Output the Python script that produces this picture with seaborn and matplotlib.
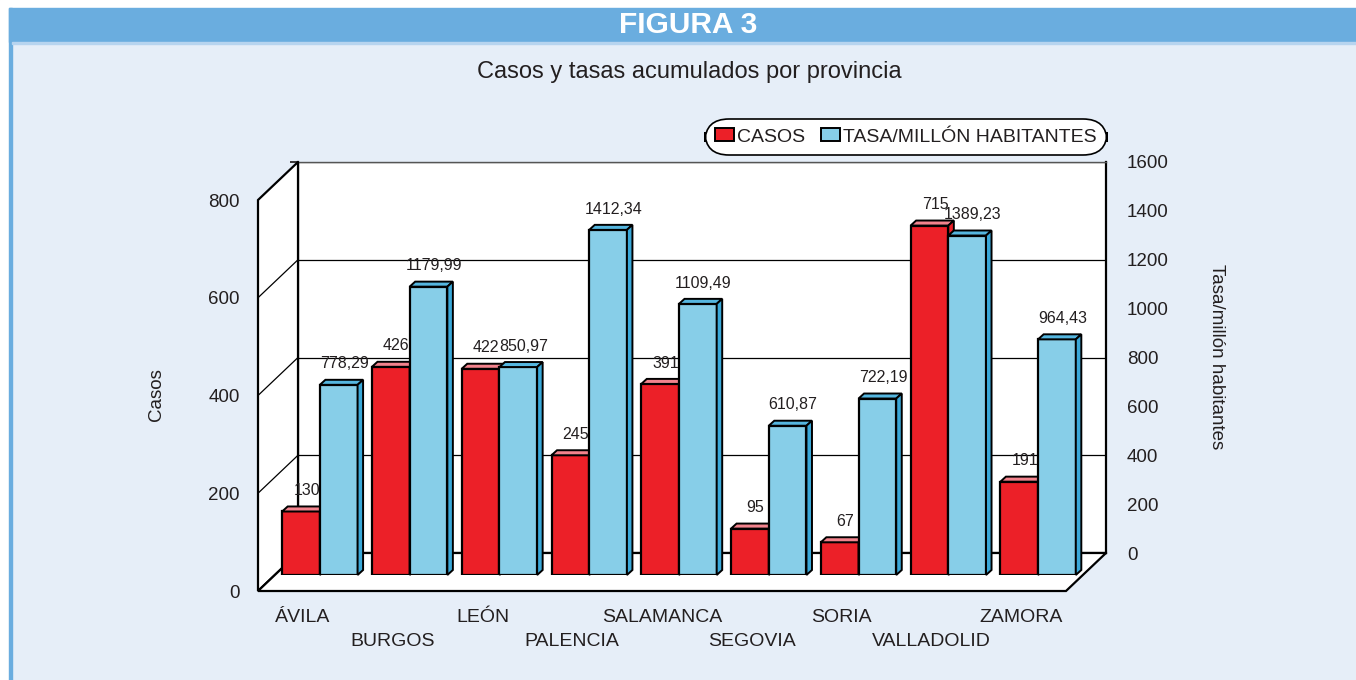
import matplotlib
matplotlib.use("Agg")
import matplotlib.pyplot as plt
from matplotlib.patches import Polygon, Rectangle, Patch
from matplotlib.lines import Line2D
import seaborn as sns
import numpy as np
import pandas as pd

# datos
provincias = ["ÁVILA", "BURGOS", "LEÓN", "PALENCIA", "SALAMANCA",
              "SEGOVIA", "SORIA", "VALLADOLID", "ZAMORA"]
casos = [130, 426, 422, 245, 391, 95, 67, 715, 191]
tasa = [778.29, 1179.99, 850.97, 1412.34, 1109.49, 610.87, 722.19, 1389.23, 964.43]
ticks_casos = [0, 200, 400, 600, 800]
ticks_tasa = [0, 200, 400, 600, 800, 1000, 1200, 1400, 1600]

df = pd.DataFrame({"provincia": provincias, "casos": casos, "tasa": tasa})

ROJO = "#EC2028"
ROJO_TOP = "#F2838D"
AZUL = "#87CEE8"
AZUL_TOP = "#55B6DF"
AZUL_LADO = "#3AA8D8"
FONDO = "#E6EEF8"
CABECERA = "#6AADDF"
TXT = "#231F20"

sns.set_theme(style="white")
plt.rcParams["font.family"] = ["Liberation Sans", "DejaVu Sans"]
plt.rcParams["text.color"] = TXT
plt.rcParams["xtick.color"] = TXT
plt.rcParams["ytick.color"] = TXT

W, H = 1356, 680
fig = plt.figure(figsize=(W / 100, H / 100), dpi=100, facecolor=FONDO)


def fx(px):
    return px / W


def fy(py):
    return 1 - py / H


# plano de las barras (px) y desplazamientos de profundidad
PL, PR, PB, PT = 275, 1083, 575, 184
FRONT = (-17, 16)
BACK = (23, -22)
DEPTH = (5.5, -5)  # profundidad de cada barra en px


def rect(off):
    dx, dy = off
    return [fx(PL + dx), fy(PB + dy), (PR - PL) / W, (PB - PT) / H]


# cabecera
fig.add_artist(Rectangle((0, fy(8)), 1, 8 / H, transform=fig.transFigure,
                         color="white", zorder=0))
fig.add_artist(Rectangle((0, 0), fx(9), 1, transform=fig.transFigure,
                         color="white", zorder=0))
fig.add_artist(Rectangle((fx(9), 0), fx(3), fy(8), transform=fig.transFigure,
                         color=CABECERA, zorder=0))
fig.add_artist(Rectangle((fx(9), fy(42)), 1, 34 / H, transform=fig.transFigure,
                         color=CABECERA, zorder=0))
fig.add_artist(Rectangle((fx(12), fy(44)), 1, 2 / H, transform=fig.transFigure,
                         color="#B7D4EF", zorder=0))
fig.text(fx(688), fy(25), "FIGURA 3", color="white", fontsize=21.5,
         fontweight="bold", ha="center", va="center")
fig.text(fx(689), fy(72), "Casos y tasas acumulados por provincia",
         fontsize=17, ha="center", va="center")

# pared del fondo
ax_back = fig.add_axes(rect(BACK), facecolor="white", zorder=0)
ax_back.set_xlim(-0.5, 8.5)
ax_back.set_ylim(0, 800)
ax_back.set_yticks(ticks_casos)
ax_back.set_xticks([])
ax_back.grid(axis="y", color="black", linewidth=0.9)
ax_back.tick_params(left=False, labelleft=False)
for s in ax_back.spines.values():
    s.set_color("black")
    s.set_linewidth(1.6)
ax_back.spines["top"].set_linewidth(1.0)
ax_back.spines["top"].set_color("#555555")

ax_back_r = ax_back.twinx()
ax_back_r.set_ylim(0, 1600)
ax_back_r.set_yticks(ticks_tasa)
ax_back_r.tick_params(axis="y", length=0, pad=15, labelsize=13.5)
for s in ax_back_r.spines.values():
    s.set_visible(False)

# pared izquierda y suelo
fl, fb, ft, frr = PL + FRONT[0], PB + FRONT[1], PT + FRONT[1], PR + FRONT[0]
bl, bb, bt, br = PL + BACK[0], PB + BACK[1], PT + BACK[1], PR + BACK[0]


def P(pts):
    return [(fx(x), fy(y)) for x, y in pts]


fig.add_artist(Polygon(P([(fl, fb), (fl, ft), (bl, bt), (bl, bb)]),
                       closed=True, transform=fig.transFigure, facecolor="white",
                       edgecolor="black", linewidth=1.6, zorder=1))
fig.add_artist(Polygon(P([(fl, fb), (bl, bb), (br, bb), (frr, fb)]),
                       closed=True, transform=fig.transFigure, facecolor="white",
                       edgecolor="black", linewidth=1.6, zorder=1))
for v in ticks_casos[1:-1]:
    yf = fb - (fb - ft) * v / 800
    yb = bb - (bb - bt) * v / 800
    fig.add_artist(Line2D([fx(fl), fx(bl)], [fy(yf), fy(yb)], color="black",
                          linewidth=0.9, transform=fig.transFigure, zorder=1))

# plano frontal: etiquetas de ejes
ax_front = fig.add_axes(rect(FRONT), facecolor="none", zorder=2)
ax_front.set_xlim(-0.5, 8.5)
ax_front.set_ylim(0, 800)
ax_front.set_yticks(ticks_casos)
ax_front.set_xticks(range(len(provincias)))
ax_front.set_xticklabels(provincias)
ax_front.tick_params(axis="y", length=0, pad=13, labelsize=13.5)
ax_front.tick_params(axis="x", length=0, labelsize=14)
for i, t in enumerate(ax_front.xaxis.get_major_ticks()):
    t.set_pad(13 if i % 2 == 0 else 30)
for s in ax_front.spines.values():
    s.set_visible(False)

fig.text(fx(157), fy(395), "Casos", rotation=90, fontsize=13.5,
         ha="center", va="center")
fig.text(fx(1217), fy(357), "Tasa/millón habitantes", rotation=-90,
         fontsize=13.5, ha="center", va="center")

# barras
ax = fig.add_axes(rect((0, 0)), facecolor="none", zorder=3)
sns.barplot(data=df, x="provincia", y="casos", ax=ax, color=ROJO, width=0.42,
            saturation=1, edgecolor="black", linewidth=1.6, errorbar=None)
ax.set_xlim(-0.5, 8.5)
ax.set_ylim(0, 800)
ax.axis("off")

ax2 = ax.twinx()
ax2.set_zorder(4)
sns.barplot(data=df, x="provincia", y="tasa", ax=ax2, color=AZUL, width=0.42,
            saturation=1, edgecolor="black", linewidth=1.6, errorbar=None)
ax2.set_xlim(-0.5, 8.5)
ax2.set_ylim(0, 1600)
ax2.axis("off")


def caras(a, lado, top_col, side_col, etiquetas):
    (x0, y0), (x1, y1) = a.transData.transform([(0, 0), (1, 1)])
    ddx = DEPTH[0] / (x1 - x0)
    ddy = -DEPTH[1] / (y1 - y0)
    for p, txt in zip(list(a.patches), etiquetas):
        w = p.get_width()
        p.set_x(p.get_x() + lado * w / 2)
        xa, xb, h = p.get_x(), p.get_x() + w, p.get_height()
        a.add_patch(Polygon([(xa, h), (xb, h), (xb + ddx, h + ddy), (xa + ddx, h + ddy)],
                            closed=True, facecolor=top_col, edgecolor="black",
                            linewidth=1.4, clip_on=False))
        a.add_patch(Polygon([(xb, 0), (xb, h), (xb + ddx, h + ddy), (xb + ddx, ddy)],
                            closed=True, facecolor=side_col, edgecolor="black",
                            linewidth=1.4, clip_on=False))
        a.annotate(txt, xy=(xa + w / 2 + ddx / 2, h + ddy), xytext=(2, 6),
                   textcoords="offset points", ha="center", va="bottom",
                   fontsize=11.5, annotation_clip=False)


caras(ax, -1, ROJO_TOP, ROJO, [str(v) for v in casos])
caras(ax2, 1, AZUL_TOP, AZUL_LADO, [f"{v:.2f}".replace(".", ",") for v in tasa])

leg = fig.legend(handles=[Patch(facecolor=ROJO, edgecolor="black", linewidth=1.4),
                          Patch(facecolor=AZUL, edgecolor="black", linewidth=1.4)],
                 labels=["CASOS", "TASA/MILLÓN HABITANTES"], loc="center",
                 bbox_to_anchor=(fx(906), fy(137)), ncol=2, fontsize=14,
                 frameon=True, fancybox=True, handlelength=1.0, handleheight=0.65,
                 handletextpad=0.15, columnspacing=0.8, borderpad=0.3)
fr = leg.get_frame()
fr.set_edgecolor("black")
fr.set_facecolor("white")
fr.set_alpha(1)
fr.set_linewidth(1.2)
fr.set_boxstyle("round,pad=0.2,rounding_size=1.2")

fig.savefig("out.png", dpi=100, facecolor=FONDO)
